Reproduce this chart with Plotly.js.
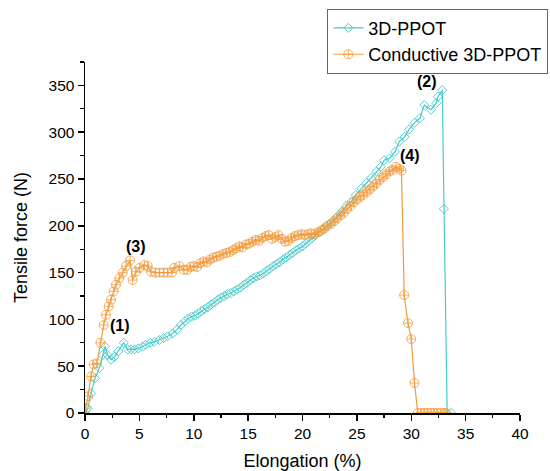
<!DOCTYPE html>
<html>
<head>
<meta charset="utf-8">
<script src="https://cdn.plot.ly/plotly-3.0.1.min.js"></script>
<style>html,body{margin:0;padding:0;background:#fff;}#chart{width:550px;height:471px;}</style>
</head>
<body>
<div id="chart"></div>
<script>
// 3D-PPOT (cyan) — elongation (%) and tensile force (N)
const ppotX = [0.00,0.25,0.55,0.92,1.32,1.63,1.84,2.09,2.39,2.70,3.07,3.56,3.92,4.23,4.54,4.90,5.30,5.60,6.00,6.38,6.84,7.23,7.60,8.06,8.46,8.82,9.19,9.50,9.80,10.10,10.40,10.70,11.00,11.30,11.60,11.90,12.20,12.50,12.80,13.10,13.40,13.70,14.00,14.30,14.60,14.90,15.20,15.50,15.80,16.10,16.40,16.70,17.00,17.30,17.60,17.90,18.20,18.50,18.80,19.10,19.40,19.70,20.00,20.30,20.60,20.90,21.20,21.60,21.90,22.20,22.60,23.10,23.60,24.00,24.50,24.90,25.40,25.90,26.30,26.80,27.20,27.50,28.00,28.50,28.90,29.40,29.80,30.30,30.80,31.20,31.80,32.30,32.45,32.85,33.00,33.30,33.65];
const ppotY = [0,5,21,37,48,62,71,62,57,60,66,75,68,68,68,69,71,73,75,76,78,80,82,85,89,94,98,101,103,104,106,109,111,113,116,118,121,123,125,127,128,130,132,134,137,139,142,144,146,147,149,152,154,157,159,161,164,166,169,171,174,176,178,181,184,187,190,193,196,200,203,209,215,221,226,233,240,246,251,258,263,270,272,279,290,295,303,310,315,329,324,331,338,345,218,0,0];

// Conductive 3D-PPOT (orange)
const condX = [0.05,0.28,0.55,0.80,1.10,1.41,1.72,1.93,2.18,2.39,2.64,2.85,3.16,3.47,3.77,4.14,4.38,4.69,5.00,5.46,5.76,6.07,6.47,6.84,7.23,7.60,8.00,8.20,8.70,9.10,9.40,9.70,10.00,10.30,10.60,10.90,11.20,11.50,11.80,12.10,12.40,12.70,13.00,13.30,13.60,13.90,14.20,14.50,14.80,15.10,15.40,15.70,16.00,16.30,16.60,16.90,17.20,17.50,17.80,18.10,18.40,18.70,19.00,19.30,19.60,19.90,20.20,20.50,20.80,21.10,21.40,21.70,22.00,22.30,22.60,22.90,23.20,23.50,23.80,24.10,24.40,24.70,25.00,25.30,25.60,25.90,26.20,26.50,26.80,27.10,27.40,27.70,28.00,28.30,28.60,28.90,29.10,29.35,29.70,30.00,30.30,30.60,30.90,31.20,31.50,31.80,32.10,32.40,32.70,33.00,33.20];
const condY = [5,18,39,52,53,75,94,105,114,121,130,137,144,150,157,163,142,151,155,158,157,151,150,150,150,150,150,155,157,153,153,156,157,156,160,162,161,164,166,167,168,170,171,172,174,176,178,177,180,181,183,185,184,187,189,190,186,188,190,186,183,184,187,189,190,191,190,191,192,191,193,195,197,200,202,205,208,211,214,218,221,225,228,231,233,236,239,242,245,249,252,255,258,260,263,261,259,126,96,79,32,0,0,0,0,0,0,0,0,0,0];

// Point labels
const labelText = ['(1)','(2)','(3)','(4)'];
const labelX = [3.19, 31.44, 4.72, 29.84];
const labelY = [93, 354, 178, 275];

const seriesNames = ['3D-PPOT', 'Conductive 3D-PPOT'];
const xTitle = 'Elongation (%)';
const yTitle = 'Tensile force (N)';

const FONT = 'Liberation Sans, Arial, sans-serif';
const cyan = '#45CACA';
const orange = '#F39A3C';

const traces = [
  {x: ppotX, y: ppotY, name: seriesNames[0], type: 'scatter', mode: 'lines+markers',
   line: {color: cyan, width: 1.2},
   marker: {symbol: 'diamond-open', size: 7, color: cyan, line: {width: 0.9, color: cyan}}},
  {x: condX, y: condY, name: seriesNames[1], type: 'scatter', mode: 'lines+markers',
   line: {color: orange, width: 1.2},
   marker: {symbol: 'circle-cross-open', size: 9, color: orange, line: {width: 0.8, color: orange}}}
];

const annotations = labelText.map((t, i) => ({
  x: labelX[i], y: labelY[i], xref: 'x', yref: 'y', text: '<b>' + t + '</b>',
  showarrow: false, font: {family: FONT, size: 16, color: '#000'}
}));

const axisCommon = {
  showline: true, linecolor: '#000', linewidth: 1.5, mirror: false,
  ticks: 'outside', ticklen: 6, tickwidth: 1.5, tickcolor: '#000',
  showgrid: false, zeroline: false,
  tickfont: {family: FONT, size: 15.5, color: '#000'},
  fixedrange: true
};

const layout = {
  width: 550, height: 471,
  margin: {l: 85, r: 30, t: 62, b: 58, autoexpand: false},
  paper_bgcolor: '#fff', plot_bgcolor: '#fff',
  font: {family: FONT, color: '#000'},
  showlegend: true,
  legend: {
    x: 0.557, y: 1.152, xanchor: 'left', yanchor: 'top',
    bgcolor: '#fff', bordercolor: '#666', borderwidth: 1,
    font: {family: FONT, size: 18, color: '#000'},
    tracegroupgap: 0, entrywidth: 240, entrywidthmode: 'pixels'
  },
  xaxis: Object.assign({}, axisCommon, {
    range: [0, 40], dtick: 5, tick0: 0,
    minor: {ticks: 'outside', ticklen: 3.5, tickwidth: 1.2, tickcolor: '#000', dtick: 2.5},
    title: {text: xTitle, font: {family: FONT, size: 18, color: '#000'}, standoff: 13}
  }),
  yaxis: Object.assign({}, axisCommon, {
    range: [0, 375], dtick: 50, tick0: 0,
    minor: {ticks: 'outside', ticklen: 3.5, tickwidth: 1.2, tickcolor: '#000', dtick: 25},
    title: {text: yTitle, font: {family: FONT, size: 18, color: '#000'}, standoff: 16}
  }),
  annotations: annotations
};

Plotly.newPlot('chart', traces, layout, {displayModeBar: false, staticPlot: true});
</script>
</body>
</html>
